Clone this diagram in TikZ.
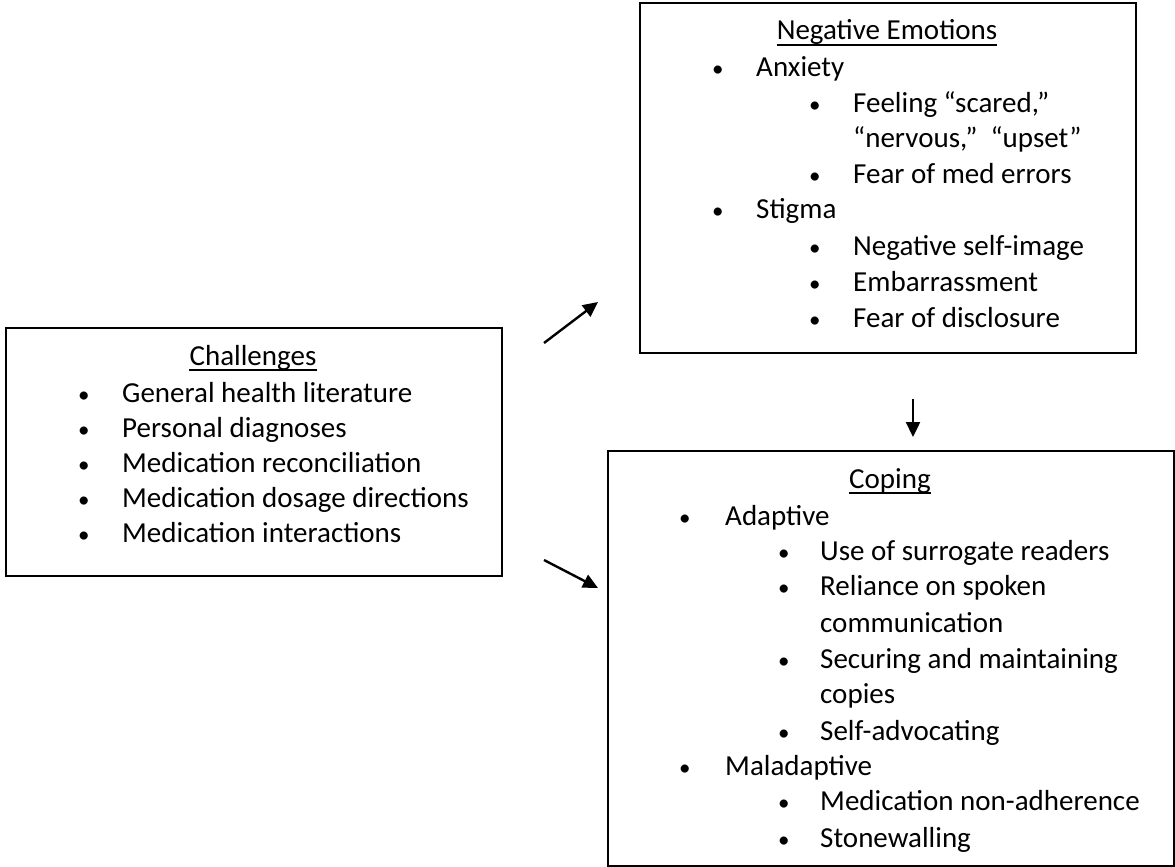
\documentclass[tikz,border=0pt]{standalone}
\usepackage{fontspec}
\setmainfont{Carlito}
\usetikzlibrary{arrows.meta}
\begin{document}
\begin{tikzpicture}[x=1pt,y=-1pt,
  box/.style={draw=black, line width=1.6pt, anchor=north west, inner sep=0pt},
  txt/.style={anchor=base west, inner sep=0pt, font=\fontsize{29}{35}\selectfont},
  bul/.style={anchor=base west, inner sep=0pt, font=\fontsize{23}{35}\selectfont},
  ttl/.style={anchor=base, inner sep=0pt, font=\fontsize{29}{35}\selectfont},
  ulin/.style={line width=1.8pt},
  conn/.style={line width=2.4pt, -{Triangle[length=15pt,width=14pt]}}]
\useasboundingbox (0,0) rectangle (1175,867);
\fill[white] (0,0) rectangle (1175,867);

% boxes
\node[box, minimum width=496pt, minimum height=248pt] (ch) at (5,327) {};
\node[box, minimum width=496pt, minimum height=350pt] (ne) at (639,2) {};
\node[box, minimum width=566pt, minimum height=415pt] (co) at (607,450) {};

% Challenges
\node[ttl] (cht) at (253,365) {Challenges};
\draw[ulin] ([yshift=-5pt]cht.base west) -- ([yshift=-5pt]cht.base east);
\node[bul] (chb1) at (78,402) {•};
\node[txt] (chl1) at (122,402) {General health literature};
\node[bul] (chb2) at (78,437) {•};
\node[txt] (chl2) at (122,437) {Personal diagnoses};
\node[bul] (chb3) at (78,472) {•};
\node[txt] (chl3) at (122,472) {Medication reconciliation};
\node[bul] (chb4) at (78,507) {•};
\node[txt] (chl4) at (122,507) {Medication dosage directions};
\node[bul] (chb5) at (78,542) {•};
\node[txt] (chl5) at (122,542) {Medication interactions};

% Negative Emotions
\node[ttl] (net) at (887,40) {Negative Emotions};
\draw[ulin] ([yshift=-5pt]net.base west) -- ([yshift=-5pt]net.base east);
\node[bul] (neb1) at (712,77) {•};
\node[txt] (nel1) at (756,77) {Anxiety};
\node[bul] (neb2) at (809,112) {•};
\node[txt] (nel2) at (853,112) {Feeling “scared,”};
\node[txt] (nel3) at (853,147) {“nervous,”\ \ “upset”};
\node[bul] (neb4) at (809,183) {•};
\node[txt] (nel4) at (853,183) {Fear of med errors};
\node[bul] (neb5) at (712,218) {•};
\node[txt] (nel5) at (756,218) {Stigma};
\node[bul] (neb6) at (809,255) {•};
\node[txt] (nel6) at (853,255) {Negative self-image};
\node[bul] (neb7) at (809,291) {•};
\node[txt] (nel7) at (853,291) {Embarrassment};
\node[bul] (neb8) at (809,327) {•};
\node[txt] (nel8) at (853,327) {Fear of disclosure};

% Coping
\node[ttl] (cot) at (890,488) {Coping};
\draw[ulin] ([yshift=-5pt]cot.base west) -- ([yshift=-5pt]cot.base east);
\node[bul] (cob1) at (679,525) {•};
\node[txt] (col1) at (725,525) {Adaptive};
\node[bul] (cob2) at (778,560) {•};
\node[txt] (col2) at (820,560) {Use of surrogate readers};
\node[bul] (cob3) at (778,595) {•};
\node[txt] (col3) at (820,595) {Reliance on spoken};
\node[txt] (col4) at (820,632) {communication};
\node[bul] (cob5) at (778,668) {•};
\node[txt] (col5) at (820,668) {Securing and maintaining};
\node[txt] (col6) at (820,703) {copies};
\node[bul] (cob7) at (778,740) {•};
\node[txt] (col7) at (820,740) {Self-advocating};
\node[bul] (cob8) at (679,775) {•};
\node[txt] (col8) at (725,775) {Maladaptive};
\node[bul] (cob9) at (778,810) {•};
\node[txt] (col9) at (820,810) {Medication non-adherence};
\node[bul] (cob10) at (778,847) {•};
\node[txt] (col10) at (820,847) {Stonewalling};

% arrows
\coordinate (a1s) at (544,343);
\coordinate (a1e) at (598,302);
\coordinate (a2s) at (544,560);
\coordinate (a2e) at (598,588);
\coordinate (a3s) at (913,399);
\coordinate (a3e) at (913,437);
\draw[conn] (a1s) -- (a1e);
\draw[conn] (a2s) -- (a2e);
\draw[conn] (a3s) -- (a3e);
\end{tikzpicture}
\end{document}
